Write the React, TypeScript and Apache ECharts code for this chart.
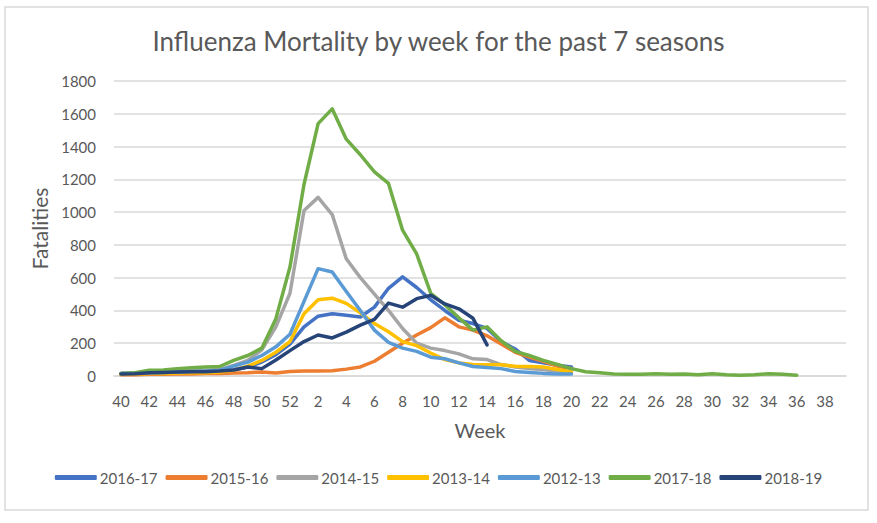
import React, { useEffect, useRef } from "react";
import * as echarts from "echarts";

const weeks: string[] = [
  "40","41","42","43","44","45","46","47","48","49","50","51","52",
  "1","2","3","4","5","6","7","8","9","10","11","12","13","14","15","16","17","18","19","20",
  "21","22","23","24","25","26","27","28","29","30","31","32","33","34","35","36","37","38","39",
];

type V = number | null;
const pad = (arr: V[]): V[] => arr.concat(new Array(weeks.length - arr.length).fill(null));

const s2016_17: V[] = pad([
  15, 15, 18, 20, 22, 25, 25, 30, 38, 55, 85, 130, 195,
  300, 365, 380, 370, 360, 420, 535, 605, 540, 465, 400, 340, 320, 290, 210, 165, 95, 80, 65, 55,
]);
const s2015_16: V[] = pad([
  8, 8, 10, 10, 12, 12, 15, 15, 18, 20, 25, 18, 28,
  30, 30, 32, 42, 55, 90, 145, 200, 250, 295, 355, 300, 280, 245, 195, 145, 115, 90, 60, 45,
]);
const s2014_15: V[] = pad([
  15, 18, 22, 25, 30, 35, 35, 40, 65, 95, 160, 300, 505,
  1010, 1090, 985, 715, 600, 500, 400, 290, 200, 170, 155, 135, 105, 100, 70, 55, 45, 38, 30, 25,
]);
const s2013_14: V[] = pad([
  10, 12, 15, 15, 18, 20, 20, 25, 35, 60, 95, 145, 210,
  380, 465, 475, 443, 385, 320, 270, 210, 185, 140, 100, 80, 70, 68, 68, 60, 58, 55, 40, 25,
]);
const s2012_13: V[] = pad([
  15, 18, 20, 22, 25, 28, 30, 35, 60, 85, 125, 178, 255,
  455, 655, 635, 515, 400, 280, 205, 170, 150, 115, 105, 80, 58, 52, 45, 28, 22, 16, 12, 12,
]);
const s2017_18: V[] = pad([
  16, 20, 35, 37, 45, 50, 55, 58, 95, 125, 170, 350, 665,
  1170, 1540, 1630, 1445, 1350, 1245, 1175, 890, 745, 505, 435, 355, 280, 300, 215, 150, 125, 95, 70, 45,
  26, 20, 12, 10, 10, 14, 10, 12, 8, 14, 8, 5, 8, 14, 10, 5,
]);
const s2018_19: V[] = pad([
  12, 14, 20, 22, 25, 26, 26, 30, 37, 55, 45, 98, 155,
  210, 250, 232, 268, 310, 345, 445, 420, 472, 492, 440, 410, 352, 190,
]);

const seasonNames = ["2016-17", "2015-16", "2014-15", "2013-14", "2012-13", "2017-18", "2018-19"];
const seasonColors = ["#4472C4", "#ED7D31", "#A5A5A5", "#FFC000", "#5B9BD5", "#70AD47", "#264478"];
const seasonData = [s2016_17, s2015_16, s2014_15, s2013_14, s2012_13, s2017_18, s2018_19];

const FONT = "Lato, 'Open Sans', sans-serif";
const TXT = "#595959";

export default function App() {
  const ref = useRef<HTMLDivElement>(null);
  useEffect(() => {
    if (!ref.current) return;
    const chart = echarts.init(ref.current, undefined, { renderer: "svg" });
    chart.setOption({
      animation: false,
      backgroundColor: "#ffffff",
      textStyle: { fontFamily: FONT },
      title: {
        text: "Influenza Mortality by week for the past 7 seasons",
        left: "center",
        top: 23,
        textStyle: { color: TXT, fontSize: 26, fontWeight: "normal", fontFamily: FONT },
      },
      graphic: [
        {
          type: "rect",
          shape: { x: 5, y: 7, width: 863, height: 503 },
          style: { fill: "none", stroke: "#d9d9d9", lineWidth: 1.5 },
          silent: true,
        },
      ],
      legend: {
        bottom: 33,
        left: "center",
        icon: "roundRect",
        itemWidth: 42,
        itemHeight: 5,
        itemGap: 8,
        textStyle: { color: TXT, fontSize: 15, fontFamily: FONT, padding: [0, 0, 0, -2] },
        data: seasonNames,
      },
      grid: { left: 114, right: 31, top: 81, bottom: 147, containLabel: false },
      xAxis: {
        type: "category",
        data: weeks,
        boundaryGap: true,
        name: "Week",
        nameLocation: "middle",
        nameGap: 44,
        nameTextStyle: { color: TXT, fontSize: 20, fontFamily: FONT },
        axisLine: { lineStyle: { color: "#d9d9d9", width: 1.5 } },
        axisTick: { show: false },
        axisLabel: { interval: 1, color: TXT, fontSize: 15, margin: 17, fontFamily: FONT },
        splitLine: { show: false },
      },
      yAxis: {
        type: "value",
        min: 0,
        max: 1800,
        interval: 200,
        name: "Fatalities",
        nameLocation: "middle",
        nameGap: 62,
        nameRotate: 90,
        nameTextStyle: { color: TXT, fontSize: 21, fontFamily: FONT },
        axisLine: { show: false },
        axisTick: { show: false },
        axisLabel: {
          color: TXT,
          fontSize: 15,
          margin: 18,
          fontFamily: FONT,
          formatter: (v: number) => String(v),
        },
        splitLine: { lineStyle: { color: "#d9d9d9", width: 1.5 } },
      },
      series: seasonNames.map((name, i) => ({
        name,
        type: "line",
        data: seasonData[i],
        symbol: "none",
        connectNulls: false,
        lineStyle: { color: seasonColors[i], width: 3.5, cap: "round", join: "round" },
        itemStyle: { color: seasonColors[i] },
        z: 2 + i,
      })),
    });
    return () => chart.dispose();
  }, []);
  return <div ref={ref} style={{ position: "fixed", left: 0, top: 0, width: 877, height: 523 }} />;
}
